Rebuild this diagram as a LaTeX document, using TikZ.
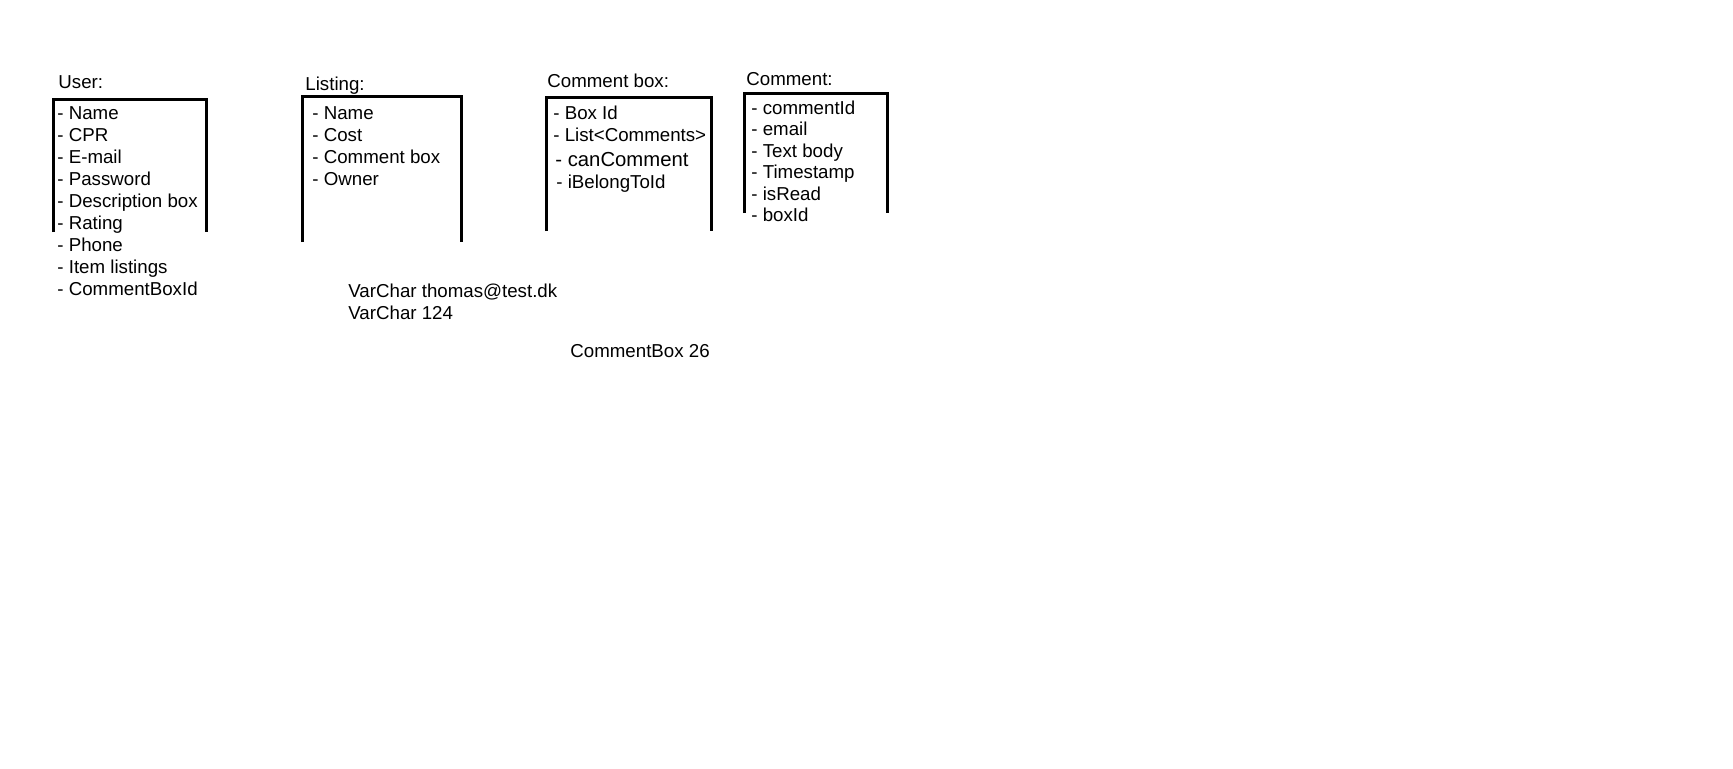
\documentclass[tikz,border=0pt]{standalone}
\usepackage{fontspec}
\setmainfont{Liberation Sans}
\begin{document}
\begin{tikzpicture}[x=0.5pt,y=-0.5pt,
    campo/.style={anchor=base west,inner sep=0pt,font=\fontsize{9.35}{11}\selectfont},
    caja/.style={line width=1.5pt}]
    \useasboundingbox (0,0) rectangle (1733,768);

    % Cajas (abiertas por abajo)
    \draw[caja] (53,232) -- (53,99) -- (206,99) -- (206,232);
    \draw[caja] (302.5,242) -- (302.5,96.5) -- (461,96.5) -- (461,242);
    \draw[caja] (546,231) -- (546,97.5) -- (711,97.5) -- (711,231);
    \draw[caja] (744,213) -- (744,93.7) -- (887,93.7) -- (887,213);

    % Titulos
    \node[campo] (user) at (58,88) {User:};
    \node[campo] (listing) at (305,90) {Listing:};
    \node[campo] (cbox) at (547,87) {Comment box:};
    \node[campo] (comment) at (746,85) {Comment:};

    % Campos de User
    \foreach \t [count=\i] in {Name,CPR,E-mail,Password,Description box,Rating,Phone,Item listings,CommentBoxId}
        \node[campo] (user\i) at (57,{97+22*\i}) {- \t};

    % Campos de Listing
    \foreach \t [count=\i] in {Name,Cost,Comment box,Owner}
        \node[campo] (listing\i) at (312,{97+22*\i}) {- \t};

    % Campos de Comment box
    \node[campo] (cbox1) at (553,119) {- Box Id};
    \node[campo] (cbox2) at (553,141) {- List<Comments>};
    \node[campo,font=\fontsize{10.15}{12}\selectfont] (cbox3) at (555,166) {- canComment};
    \node[campo] (cbox4) at (556,188) {- iBelongToId};

    % Campos de Comment
    \foreach \t [count=\i] in {commentId,email,Text body,Timestamp,isRead,boxId}
        \node[campo] (comment\i) at (751,{92.5+21.5*\i}) {- \t};

    % Valores de ejemplo
    \node[campo] (vmail) at (348,297) {VarChar thomas@test.dk};
    \node[campo] (vnum) at (348,319) {VarChar 124};
    \node[campo] (vbox) at (570,357) {CommentBox 26};

\end{tikzpicture}
\end{document}
